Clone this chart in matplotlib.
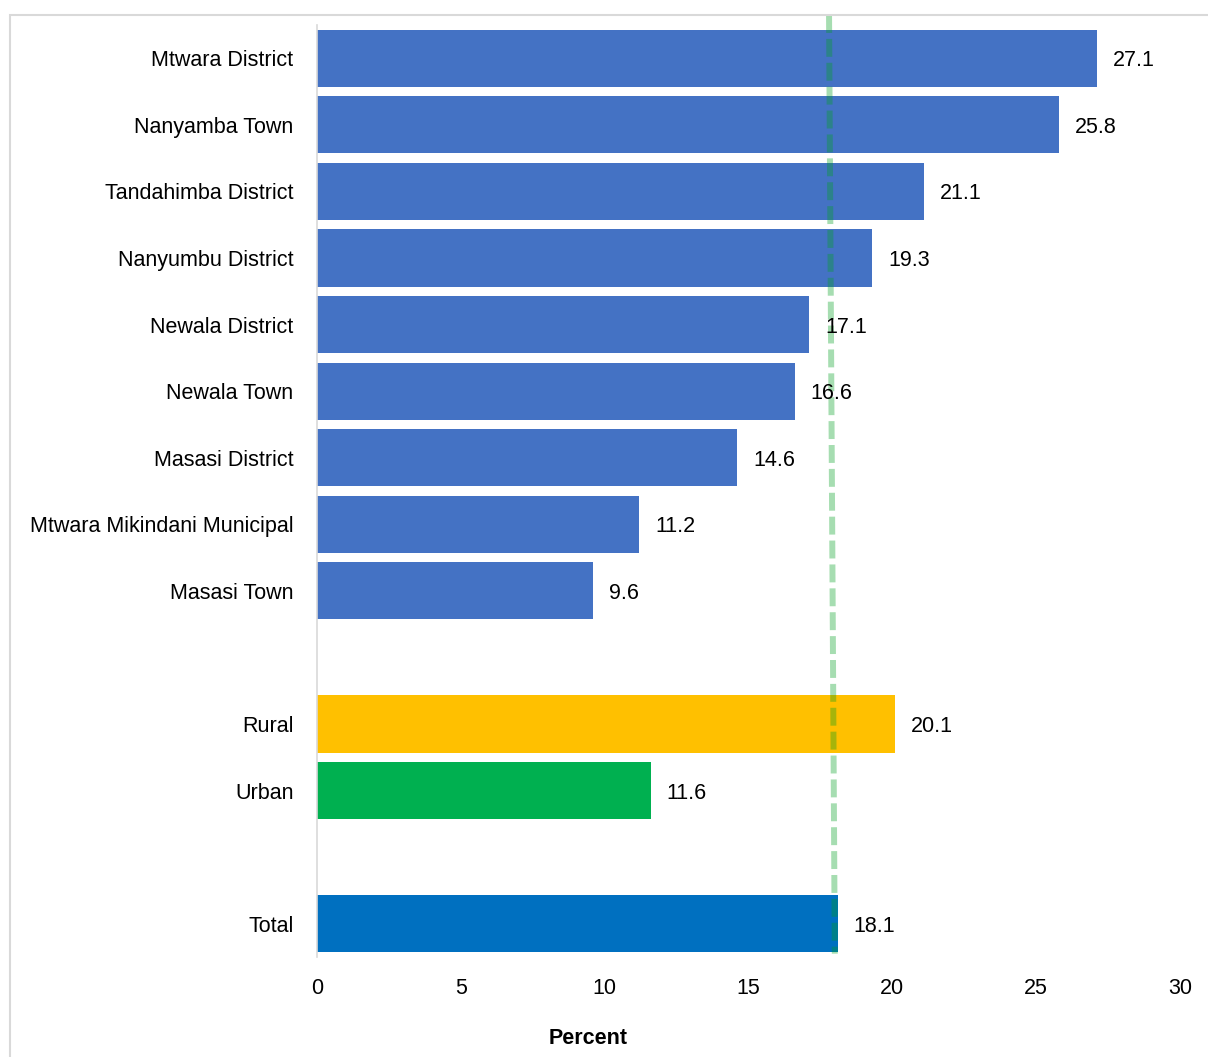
import matplotlib.pyplot as plt
from matplotlib.patches import Rectangle

# data
districts = ["Mtwara District", "Nanyamba Town", "Tandahimba District", "Nanyumbu District",
             "Newala District", "Newala Town", "Masasi District",
             "Mtwara Mikindani Municipal", "Masasi Town"]
district_vals = [27.1, 25.8, 21.1, 19.3, 17.1, 16.6, 14.6, 11.2, 9.6]
area_labels = ["Rural", "Urban"]
area_vals = [20.1, 11.6]
total_label = "Total"
total_val = 18.1
ref_line = (17.8, 18.0)  # hand-drawn dashed line, slightly slanted

xticks = [0, 5, 10, 15, 20, 25, 30]

plt.rcParams['font.family'] = ['Liberation Sans', 'DejaVu Sans']

fig = plt.figure(figsize=(12.08, 10.57), dpi=100)
ax = fig.add_axes([317/1208, 100/1057, 863/1208, 932/1057])

# layout positions: districts 0..8, gap, rural/urban, gap, total
pos_d = list(range(len(districts)))
pos_a = [10, 11]
pos_t = [13]
h = 0.86

ax.barh(pos_d, district_vals, height=h, color="#4472C4", zorder=2)
ax.barh(pos_a, area_vals, height=h, color=["#FFC000", "#00B050"], zorder=2)
ax.barh(pos_t, [total_val], height=h, color="#0070C0", zorder=2)

all_pos = pos_d + pos_a + pos_t
all_vals = district_vals + area_vals + [total_val]
for p, v in zip(all_pos, all_vals):
    ax.annotate(f"{v:.1f}", (v, p), xytext=(11.5, 0), textcoords="offset points",
                va="center_baseline", ha="left", fontsize=15.5, zorder=6)

ax.set_yticks(all_pos)
ax.set_yticklabels(districts + area_labels + [total_label], fontsize=15.5)
ax.set_xticks(xticks)
ax.set_xticklabels([str(t) for t in xticks], fontsize=15.5)
ax.tick_params(axis="y", length=0, pad=17)
ax.tick_params(axis="x", length=0, pad=15)
ax.set_xlim(0, 30)
ax.set_ylim(13.5, -0.5)

for s in ["top", "right", "bottom"]:
    ax.spines[s].set_visible(False)
ax.spines["left"].set_color("#d9d9d9")
ax.spines["left"].set_linewidth(1.2)

# dashed reference line (semi-transparent green)
ax.plot([ref_line[0], ref_line[1]], [-0.65, 13.45], color="#00a020", alpha=0.35,
        lw=4.3, ls=(0, (3, 1)), clip_on=False, zorder=5)

fig.text(588/1208, 1 - 1038/1057, "Percent", ha="center", va="center",
         fontsize=15.5, fontweight="bold")

# chart frame
fig.patches.append(Rectangle((10/1208, -0.01), 1.0, 1 - 15/1057 + 0.01,
                             transform=fig.transFigure, fill=False,
                             edgecolor="#d9d9d9", lw=1.5))

fig.savefig("out.png", dpi=100)
